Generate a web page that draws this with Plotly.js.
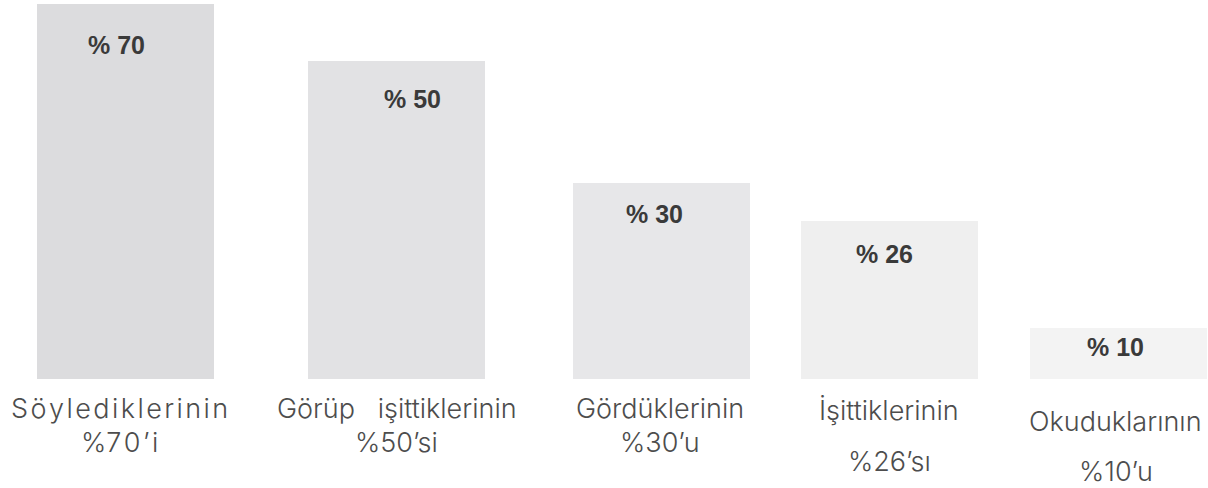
<!DOCTYPE html>
<html>
<head>
<meta charset="utf-8">
<script src="https://cdn.plot.ly/plotly-3.0.1.min.js"></script>
<style>
  html, body { margin: 0; padding: 0; background: #ffffff; }
  #chart { width: 1208px; height: 488px; }
</style>
</head>
<body>
<div id="chart"></div>
<script>
// ---- data ----
// category names, split on two lines as in the picture
const categoryLine1 = ["S\u200aö\u200ay\u200al\u200ae\u200ad\u200ai\u200ak\u200al\u200ae\u200ar\u200ai\u200an\u200ai\u200an", "Görüp\u00a0\u00a0 işittiklerinin", "Gördüklerinin", "İşittiklerinin", "Okuduklarının"];
const categoryLine2 = ["%7\u200a0\u200a’\u200ai", "%50’si", "%30’u", "%26’sı", "%10’u"];
// percentage printed inside each bar
const percentValues = [70, 50, 30, 26, 10];
// drawn bar lengths (the infographic's bars are not to scale with the percentages)
const barLengths = [375, 318, 196, 158, 51];
const categories = ["c1", "c2", "c3", "c4", "c5"];

// ---- styles / layout tweaks ----
const barColors = ["#dcdcde", "#e2e2e4", "#e7e7e9", "#efefef", "#f3f3f3"];
const slotNudgePx = [0, 23, 39, 19, 0];        // uneven spacing of the columns in the picture
const valueShiftY = [-41, -38, -31, -33, -19];
const valueShiftX = [-9, 16, -7, -5, -3];
const labelShiftX = [-6, 0, -1, 0, -3];
const line1Y = [408, 408, 408, 410, 421];   // pixel centre of first label line
const line2Y = [442, 442, 442, 461, 471];   // pixel centre of second label line
const plotBottom = 379;
const plotWidth = 1208;
const xRange = [-0.5055, 4.3605];
const pxPerUnit = plotWidth / (xRange[1] - xRange[0]);
const barWidth = 0.713;
const labelFont = { family: "Inter, Roboto, Liberation Sans, sans-serif", size: 27, color: "#4d4d4d", weight: 300 };

const trace = {
  type: "bar",
  x: categories,
  y: barLengths,
  width: barWidth,
  offset: slotNudgePx.map(p => -barWidth / 2 + p / pxPerUnit),
  marker: { color: barColors, line: { width: 0 } },
  hoverinfo: "skip"
};

const annotations = [];
categories.forEach((c, i) => {
  annotations.push({
    x: c, y: barLengths[i], xref: "x", yref: "y",
    text: "<b>% " + percentValues[i] + "</b>",
    showarrow: false, xanchor: "center", yanchor: "middle",
    xshift: slotNudgePx[i] + valueShiftX[i], yshift: valueShiftY[i],
    font: { family: "Liberation Sans, Arial, sans-serif", size: 25, color: "#3a3a3a" }
  });
  annotations.push({
    x: c, y: 0, xref: "x", yref: "paper",
    text: categoryLine1[i],
    showarrow: false, xanchor: "center", yanchor: "middle",
    xshift: slotNudgePx[i] + labelShiftX[i],
    yshift: -(line1Y[i] - plotBottom),
    font: labelFont
  });
  annotations.push({
    x: c, y: 0, xref: "x", yref: "paper",
    text: categoryLine2[i],
    showarrow: false, xanchor: "center", yanchor: "middle",
    xshift: slotNudgePx[i] + labelShiftX[i],
    yshift: -(line2Y[i] - plotBottom),
    font: labelFont
  });
});

const layout = {
  width: 1208, height: 488,
  margin: { l: 0, r: 0, t: 0, b: 488 - plotBottom, pad: 0 },
  paper_bgcolor: "#ffffff", plot_bgcolor: "#ffffff",
  showlegend: false,
  bargap: 0,
  xaxis: {
    type: "category", range: xRange,
    showticklabels: false, showgrid: false, zeroline: false, showline: false, ticks: "", fixedrange: true
  },
  yaxis: {
    range: [0, 379], showticklabels: false, showgrid: false, zeroline: false, showline: false, ticks: "", fixedrange: true
  },
  annotations: annotations
};

Plotly.newPlot("chart", [trace], layout, { displayModeBar: false, staticPlot: true });
</script>
</body>
</html>
